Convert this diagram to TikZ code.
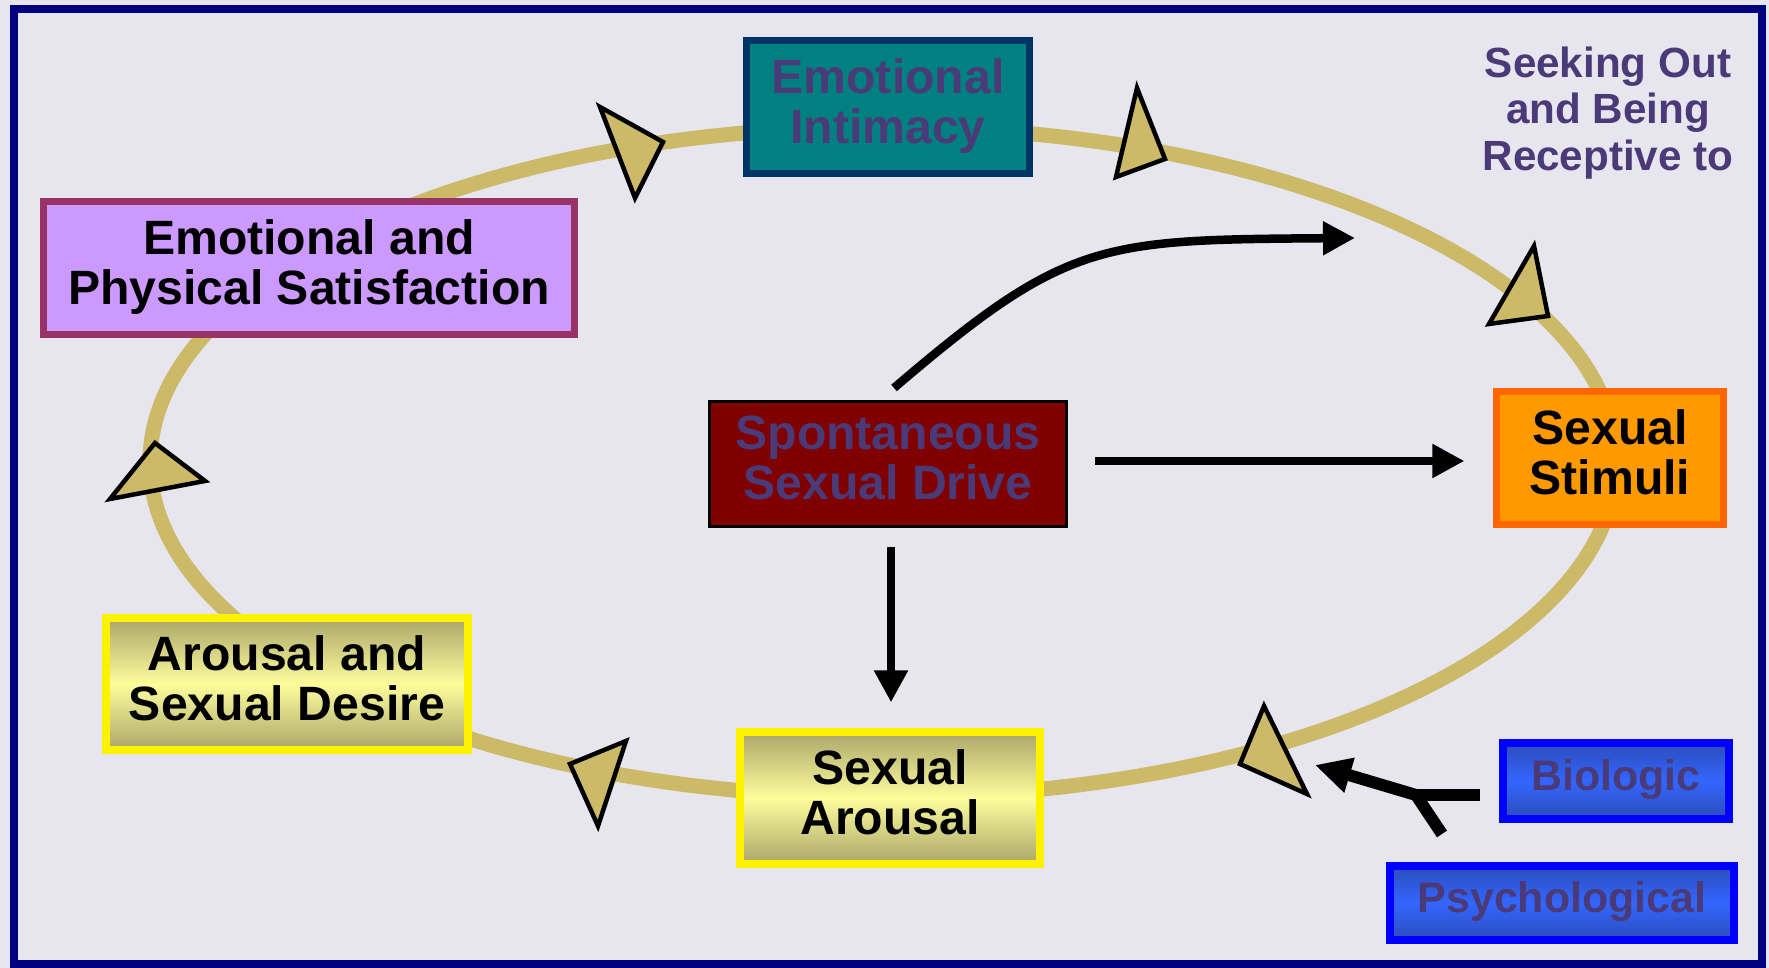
\documentclass[tikz,border=0pt]{standalone}
\usepackage{fontspec}
\setmainfont{Liberation Sans}
\usepackage{xcolor}
\definecolor{cycbg}{HTML}{E7E5EE}
\definecolor{cycframe}{HTML}{000080}
\definecolor{cycgold}{HTML}{CDBA68}
\definecolor{cycpurple}{HTML}{4B3A78}
\definecolor{cycteal}{HTML}{008080}
\definecolor{cycnavy}{HTML}{003366}
\definecolor{cycplum}{HTML}{993366}
\definecolor{cyclilac}{HTML}{CC99FF}
\definecolor{cycmaroon}{HTML}{800000}
\definecolor{cycorange}{HTML}{FF9900}
\definecolor{cycrust}{HTML}{FF6600}
\definecolor{cycolive}{HTML}{ABA66A}
\definecolor{cyccream}{HTML}{FDFD9C}
\definecolor{cycblue}{HTML}{3366FF}
\definecolor{cycdkblue}{HTML}{2C4DBA}
\definecolor{cycrim}{HTML}{0000FF}
\usepackage{tikz}
\usetikzlibrary{arrows.meta,calc}

\begin{document}
\begin{tikzpicture}[
  x=0.01cm, y=-0.01cm,
  font=\fontsize{13.7}{14.2}\selectfont\bfseries,
  box/.style={draw, line width=0.07cm, align=center, inner sep=0pt, text depth=0.12cm},
  glow/.style={box, draw=yellow, line width=0.08cm, top color=cycolive,
               bottom color=cycolive, middle color=cyccream, text=black},
  src/.style={box, draw=cycrim, line width=0.08cm, top color=cycdkblue,
              bottom color=cycdkblue, middle color=cycblue, text=cycpurple,
              font=\fontsize{12.2}{13}\selectfont\bfseries},
  tri/.style={fill=cycgold, draw=black, line width=0.045cm, line join=miter},
  arr/.style={-{Triangle[length=0.32cm,width=0.32cm]}, line width=0.085cm},
  feed/.style={-{Triangle[length=0.36cm,width=0.34cm]}, line width=0.12cm, line join=miter},
]
\useasboundingbox (0,0) rectangle (1769,968);
\fill[cycbg] (0,0) rectangle (1769,968);
\draw[cycframe, line width=0.08cm] (14,9) rectangle (1762,964);

% the cycle
\draw[cycgold, line width=0.15cm] (883,462) ellipse [x radius=733, y radius=335];
\filldraw[tri] (600,107) -- (663,142) -- (635,198) -- cycle;
\filldraw[tri] (1137,88) -- (1165,159) -- (1116,177) -- cycle;
\filldraw[tri] (1534,246) -- (1548,316) -- (1489,324) -- cycle;
\filldraw[tri] (1264,706) -- (1307,794) -- (1240,764) -- cycle;
\filldraw[tri] (626,741) -- (598,826) -- (570,764) -- cycle;
\filldraw[tri] (155,443) -- (205,481) -- (110,499) -- cycle;

% stages
\node[box, draw=cycnavy, fill=cycteal, text=cycpurple, minimum width=2.83cm, minimum height=1.33cm]
  (intim) at (888,107) {Emotional\\Intimacy};
\node[box, draw=cycplum, fill=cyclilac, minimum width=5.31cm, minimum height=1.32cm]
  (satis) at (309,268) {Emotional and\\Physical Satisfaction};
\node[box, draw=black, line width=0.03cm, fill=cycmaroon, text=cycpurple, minimum width=3.56cm, minimum height=1.25cm]
  (drive) at (888,464) {Spontaneous\\Sexual Drive};
\node[box, draw=cycrust, fill=cycorange, minimum width=2.26cm, minimum height=1.32cm]
  (stimuli) at (1610,458) {Sexual\\Stimuli};
\node[glow, minimum width=3.62cm, minimum height=1.31cm]
  (desire) at (287,684) {Arousal and\\Sexual Desire};
\node[glow, minimum width=2.99cm, minimum height=1.31cm]
  (sarous) at (890,798) {Sexual\\Arousal};
\node[src, minimum width=2.25cm, minimum height=0.75cm]
  (bio) at (1616,781) {Biologic};
\node[src, minimum width=3.44cm, minimum height=0.74cm]
  (psych) at (1562,903) {Psychological};
\node[text=cycpurple, align=center, inner sep=0pt, anchor=north,
      font=\fontsize{12}{13.2}\selectfont\bfseries]
  (seek) at (1608,46) {Seeking Out\\and Being\\Receptive to};

% drive arrows
\coordinate (seekend) at (1355,238);
\draw[arr] ([xshift=0.06cm,yshift=0.12cm]drive.north) .. controls (1067,240) and (1100,240) .. (seekend);
\draw[arr, shorten <=0.27cm, shorten >=0.29cm] ([yshift=0.03cm]drive.east) -- ([yshift=0.03cm]drive.east -| stimuli.west);
\draw[arr, shorten <=0.19cm, shorten >=0.26cm] ([xshift=0.03cm]drive.south) -- ([xshift=0.03cm]drive.south |- sarous.north);

% biologic + psychological feed
\coordinate (merge) at (1416,795);
\coordinate (psyend) at (1442,834);
\coordinate (hit) at (1315,765);
\draw[feed, -] ([xshift=-0.19cm]bio.west |- merge) -- (merge);
\draw[feed] (psyend) -- (merge) -- (hit);
\end{tikzpicture}
\end{document}
